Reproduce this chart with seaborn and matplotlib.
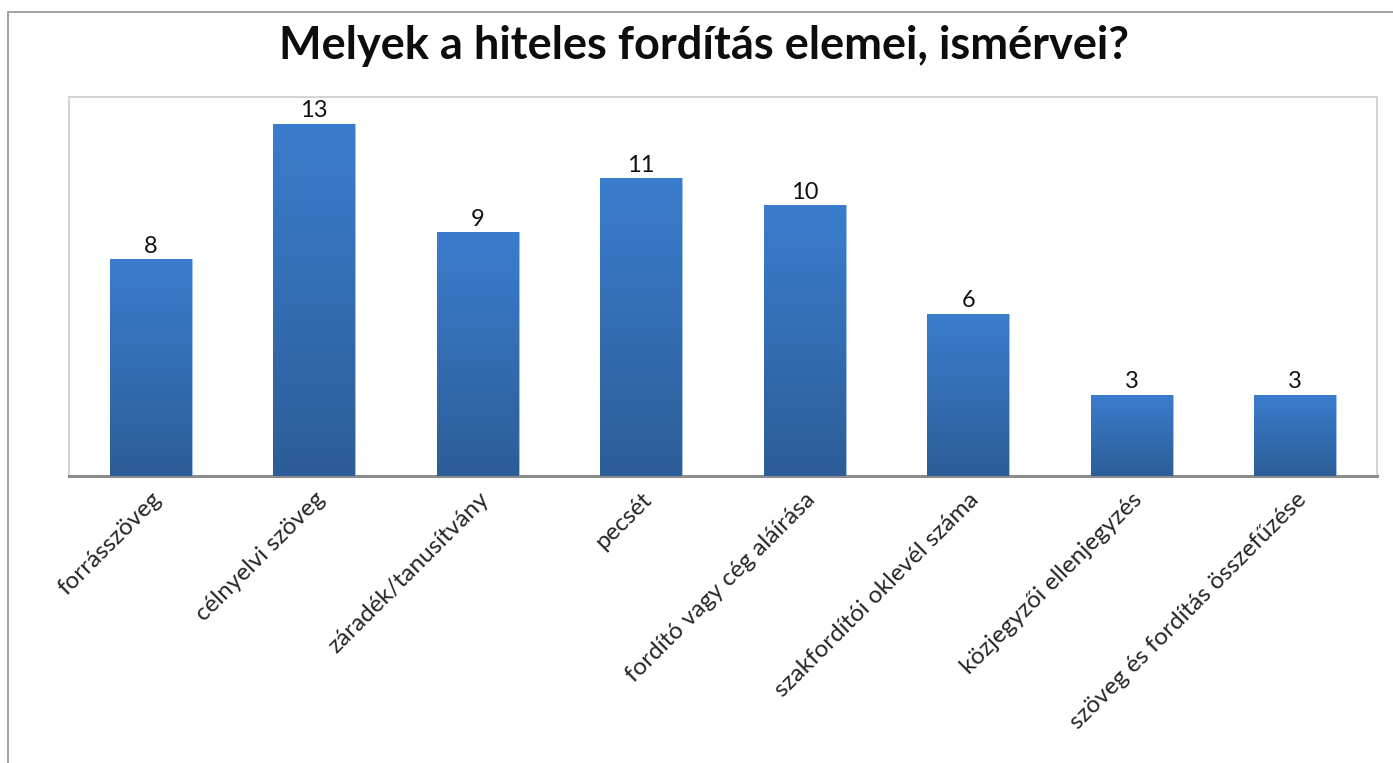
import numpy as np
import pandas as pd
import matplotlib
matplotlib.use("Agg")
import matplotlib.pyplot as plt
from matplotlib.lines import Line2D
from matplotlib.colors import LinearSegmentedColormap
import seaborn as sns

title = "Melyek a hiteles fordítás elemei, ismérvei?"
categories = [
    "forrásszöveg",
    "célnyelvi szöveg",
    "záradék/tanusítvány",
    "pecsét",
    "fordító vagy cég aláírása",
    "szakfordítói oklevél száma",
    "közjegyzői ellenjegyzés",
    "szöveg és fordítás összefűzése",
]
counts = [8, 13, 9, 11, 10, 6, 3, 3]

df = pd.DataFrame({"elem": categories, "db": counts})

sns.set_theme(style="white")
plt.rcParams["font.family"] = ["Lato", "DejaVu Sans"]

fig = plt.figure(figsize=(13.93, 7.63), dpi=100)
ax = fig.add_axes([69 / 1393, 1 - 476 / 763, (1377 - 69) / 1393, (476 - 97) / 763])

sns.barplot(data=df, x="elem", y="db", color="#3a7cc9", width=0.5,
            saturation=1, ax=ax, zorder=2)

# vertical gradient fill on every bar
grad = LinearSegmentedColormap.from_list("bar_grad", ["#2d5d98", "#3a7dcd"])
ramp = np.linspace(0, 1, 256).reshape(-1, 1)
for patch in ax.patches:
    x0, y0 = patch.get_x(), patch.get_y()
    w, h = patch.get_width(), patch.get_height()
    im = ax.imshow(ramp, cmap=grad, origin="lower", aspect="auto",
                   extent=[x0, x0 + w, y0, y0 + h], zorder=3)
    im.set_clip_path(patch)
    patch.set_edgecolor("#9ec2ea")
    patch.set_linewidth(0.6)

for patch, v in zip(ax.patches, counts):
    ax.text(patch.get_x() + patch.get_width() / 2, v + 0.1, str(v),
            ha="center", va="bottom", fontsize=17, color="#111111", zorder=4)

ax.set_xlim(-0.5, len(categories) - 0.5)
ax.set_ylim(0, 14)
ax.set_xlabel("")
ax.set_ylabel("")
ax.set_yticks([])
ax.tick_params(axis="x", length=0, pad=9)
ax.set_xticks(range(len(categories)))
ax.set_xticklabels(categories, rotation=45, ha="right", rotation_mode="anchor",
                   fontsize=17.5, color="#262626")

for side in ["top", "left", "right"]:
    ax.spines[side].set_color("#d4d4d4")
    ax.spines[side].set_linewidth(1.5)
ax.spines["bottom"].set_color("#8c8c8c")
ax.spines["bottom"].set_linewidth(2.2)

fig.text(0.5 + 8 / 1393, 1 - 46 / 763, title, ha="center", va="center",
         fontsize=32.5, fontweight="bold", color="#0d0d0d")

# outer chart frame (left and top edges)
fig.add_artist(Line2D([8 / 1393, 8 / 1393], [0, 1 - 12 / 763],
                      transform=fig.transFigure, color="#a6a6a6", lw=1.5))
fig.add_artist(Line2D([8 / 1393, 1], [1 - 12 / 763, 1 - 12 / 763],
                      transform=fig.transFigure, color="#a6a6a6", lw=1.5))

fig.savefig("out.png", dpi=100, facecolor="white")
